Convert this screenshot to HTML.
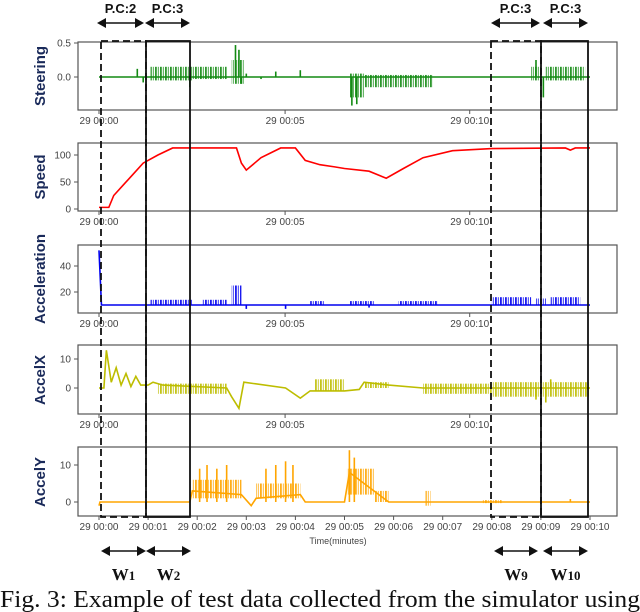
<!DOCTYPE html>
<html><head><meta charset="utf-8"><style>
body{margin:0;background:#fff;width:640px;height:612px;overflow:hidden}
svg{display:block}
.tk{font:10px "Liberation Sans",sans-serif;fill:#444}
.yl{font:bold 15px "Liberation Sans",sans-serif;fill:#1a2a5a}
.pc{font:bold 13px "Liberation Sans",sans-serif;fill:#111}
.w{font:bold 17px "Liberation Serif",serif;fill:#111}
</style></head><body>
<svg id="c" width="640" height="612"></svg>
<script>
// ---- data (t in minutes) ----
const topTickTimes=[0,3.79,7.55];
const topTickLabels=["29 00:00","29 00:05","29 00:10"];
const botTickTimes=[0,1,2,3,4,5,6,7,8,9,10];
const botTickLabels=["29 00:00","29 00:01","29 00:02","29 00:03","29 00:04","29 00:05","29 00:06","29 00:07","29 00:08","29 00:09","29 00:10"];
const steerLine=[[0,0],[10,0]];
const steerBands=[[1.05,1.9,-0.05,0.15],[1.9,2.6,-0.03,0.15],[2.7,2.95,-0.1,0.25],[5.1,5.4,-0.3,0.05],[5.4,6.8,-0.15,0.03],[8.8,9.0,-0.05,0.15],[9.1,9.9,-0.05,0.15]];
const steerSpikes=[[0.78,0.12],[0.9,-0.08],[1.85,-0.15],[2.78,0.47],[2.85,0.4],[2.9,-0.1],[3.0,0.05],[3.3,-0.03],[3.6,0.08],[4.1,0.1],[5.15,-0.42],[5.25,-0.4],[8.9,0.25],[9.05,-0.3]];
const speedLine=[[0,3],[0.2,3],[0.3,25],[0.5,45],[0.7,65],[0.9,85],[1.2,100],[1.5,113],[2.8,113],[2.9,85],[3.0,72],[3.3,95],[3.7,113],[4.0,113],[4.2,90],[4.5,82],[4.8,78],[5.0,75],[5.5,70],[5.85,57],[6.2,75],[6.6,95],[7.2,108],[8,112],[9.5,113],[9.6,109],[9.7,113],[10,113]];
const accLine=[[0,52],[0.05,10],[10,10]];
const accBands=[[1.05,1.9,10,14],[2.1,2.6,10,14],[2.7,2.9,10,25],[4.3,4.6,10,13],[5.1,5.6,10,13],[6.1,6.9,10,13],[8.0,8.8,10,16],[8.9,9.1,10,15],[9.2,9.8,10,16]];
const accSpikes=[[3.0,7],[3.8,7],[5.5,8]];
const axLine=[[0,0],[0.1,0],[0.15,13],[0.25,2],[0.35,7],[0.45,1],[0.55,5],[0.65,0.5],[0.75,4],[0.85,1],[1.0,1],[1.1,2],[1.3,1],[2.6,0],[2.7,-3],[2.85,-7],[2.95,2],[3.8,0],[4.1,-3.5],[4.3,-1],[5.0,-1],[5.3,-0.5],[5.4,2],[5.9,1],[6.6,0],[10,0]];
const axBands=[[1.2,2.6,-2,1.5],[4.4,5.0,-1,3],[5.4,5.9,0,2],[6.6,8.0,-2,1.5],[8.0,10,-3,2]];
const axSpikes=[[8.9,-4],[9.1,-5],[9.2,3]];
const ayLine=[[0,-1],[0.02,0],[1.85,0],[1.9,3],[2.9,2],[3.1,-1],[3.2,1],[4.1,2],[4.2,0],[5.0,0],[5.1,8],[5.9,0],[10,0]];
const ayBands=[[1.9,2.9,1,6],[3.2,4.1,1,5],[5.05,5.6,2,9],[5.6,5.9,0,3],[6.65,6.75,-1,3],[7.8,8.2,-0.3,0.5]];
const aySpikes=[[2.05,9],[2.2,10],[2.4,9],[2.6,10],[3.4,9],[3.6,10],[3.8,11],[3.95,10],[5.1,14],[5.2,12],[9.6,0.8]];

const NS="http://www.w3.org/2000/svg";
const svg=document.getElementById('c');
function mk(tag,a,parent){const e=document.createElementNS(NS,tag);for(const k in a)e.setAttribute(k,a[k]);(parent||svg).appendChild(e);return e;}
const defs=mk('defs',{});
const X=t=>99+t*49.1;
const PL=78,PR=617;
const panels=[
 {name:'steering',label:'Steering',top:42,bot:110,y:v=>77-v*68,ticks:[0.5,0.0],tl:["0.5","0.0"],color:'#138a13',line:steerLine,bands:steerBands,spikes:steerSpikes,xt:topTickTimes,xl:topTickLabels,ly:76,base:0},
 {name:'speed',label:'Speed',top:143,bot:211,y:v=>209-v*0.54,ticks:[100,50,0],tl:["100","50","0"],color:'#f00',line:speedLine,bands:[],spikes:[],xt:topTickTimes,xl:topTickLabels,ly:177,base:0},
 {name:'acceleration',label:'Acceleration',top:245,bot:313,y:v=>318-v*1.3,ticks:[40,20],tl:["40","20"],color:'#0000ee',line:accLine,bands:accBands,spikes:accSpikes,xt:topTickTimes,xl:topTickLabels,ly:279,base:10},
 {name:'accelx',label:'AccelX',top:345,bot:414,y:v=>388-v*2.9,ticks:[10,0],tl:["10","0"],color:'#bdbd00',line:axLine,bands:axBands,spikes:axSpikes,xt:topTickTimes,xl:topTickLabels,ly:380,base:0},
 {name:'accely',label:'AccelY',top:447,bot:516,y:v=>502-v*3.7,ticks:[10,0],tl:["10","0"],color:'#ffa500',line:ayLine,bands:ayBands,spikes:aySpikes,xt:botTickTimes,xl:botTickLabels,ly:482,base:0}
];
panels.forEach(p=>{
 const pat=mk('pattern',{id:'pat-'+p.name,width:5,height:6,patternUnits:'userSpaceOnUse'},defs);
 mk('rect',{x:0,y:0,width:1.8,height:6,fill:p.color},pat);
 mk('rect',{x:2.8,y:0,width:1.2,height:6,fill:p.color,opacity:0.7},pat);
 const g=mk('g',{});
 const fr=mk('rect',{x:PL,y:p.top,width:PR-PL,height:p.bot-p.top,fill:'none',stroke:'#555','stroke-width':1.2},g);
 
 p.ticks.forEach((v,i)=>{const yy=p.y(v);mk('line',{x1:PL-4,x2:PL,y1:yy,y2:yy,stroke:'#555'},g);
  const t=mk('text',{x:PL-7,y:yy+3.5,'text-anchor':'end',class:'tk'},g);t.textContent=p.tl[i];
  });
 p.xt.forEach((tt,i)=>{const xx=X(tt);mk('line',{x1:xx,x2:xx,y1:p.bot,y2:p.bot+4,stroke:'#555'},g);
  const t=mk('text',{x:xx,y:p.bot+14,'text-anchor':'middle',class:'tk'},g);t.textContent=p.xl[i];
  });
 const yl=mk('text',{x:0,y:0,transform:`translate(45,${p.ly}) rotate(-90)`,'text-anchor':'middle',class:'yl'},g);yl.textContent=p.label;
 
 p.bands.forEach(b=>{const r=mk('rect',{x:X(b[0]),y:p.y(b[3]),width:X(b[1])-X(b[0]),height:p.y(b[2])-p.y(b[3]),fill:'url(#pat-'+p.name+')',opacity:0.9},g);
  });
 const pl=mk('polyline',{points:p.line.map(d=>X(d[0])+','+p.y(d[1])).join(' '),fill:'none',stroke:p.color,'stroke-width':1.6},g);
 
 p.spikes.forEach(s=>{const l=mk('line',{x1:X(s[0]),x2:X(s[0]),y1:p.y(p.base),y2:p.y(s[1]),stroke:p.color,'stroke-width':1.6},g);
  });
});
const xt=mk('text',{x:338,y:544,'text-anchor':'middle',class:'tk',style:'font-size:9px'});xt.textContent='Time(minutes)';

const wins=[[101,146,true],[146,190,false],[491,541,true],[541,588,false]];
wins.forEach((w,i)=>{const r=mk('rect',{x:w[0],y:41,width:w[1]-w[0],height:476,fill:'none',stroke:'#111','stroke-width':1.8,'stroke-dasharray':w[2]?'7,4':'none'});
 });
function arrow(x1,x2,y,name){const g=mk('g',{});
 mk('line',{x1:x1+6,x2:x2-6,y1:y,y2:y,stroke:'#111','stroke-width':1.5},g);
 mk('polygon',{points:`${x1},${y} ${x1+9},${y-5} ${x1+9},${y+5}`,fill:'#111'},g);
 mk('polygon',{points:`${x2},${y} ${x2-9},${y-5} ${x2-9},${y+5}`,fill:'#111'},g);}
const tops=[[97,144,"P.C:2"],[145,190,"P.C:3"],[491,540,"P.C:3"],[543,588,"P.C:3"]];
tops.forEach((a,i)=>{arrow(a[0],a[1],23,'pc-arrow-'+(i+1));const t=mk('text',{x:(a[0]+a[1])/2,y:13,'text-anchor':'middle',class:'pc'});t.textContent=a[2];
 });
const bots=[[101,146,"W","1"],[146,191,"W","2"],[494,538,"W","9"],[543,588,"W","10"]];
bots.forEach((a,i)=>{arrow(a[0],a[1],551,'w-arrow-'+(i+1));const t=mk('text',{x:(a[0]+a[1])/2,y:580,'text-anchor':'middle',class:'w'});
 t.innerHTML=a[2]+'<tspan style="font-size:13px">'+a[3]+'</tspan>';
 });
const cap=mk('text',{x:0,y:607,style:'font:24px "Liberation Serif",serif',fill:'#111',textLength:640,lengthAdjust:'spacingAndGlyphs'});cap.textContent='Fig. 3: Example of test data collected from the simulator using';

</script></body></html>
